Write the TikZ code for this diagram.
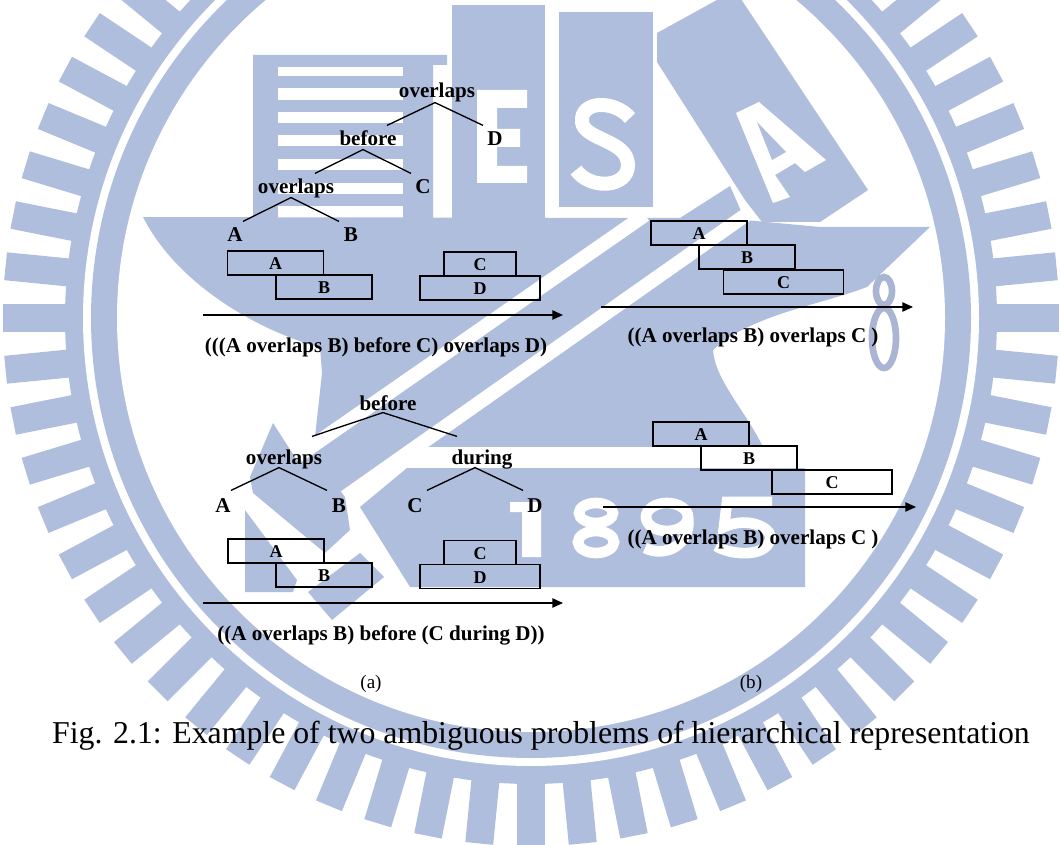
\documentclass[tikz,border=0pt]{standalone}
\usepackage{fontspec}
\setmainfont{Liberation Serif}
\usepackage{xcolor}
\definecolor{wmblue}{HTML}{B0BEDD}
\definecolor{wmgrey}{HTML}{A9B5D2}
\usetikzlibrary{arrows.meta}
\tikzset{
  treelabel/.style={inner sep=0pt,text height=13pt,text depth=2.5pt,font=\fontsize{15.8}{18}\selectfont\bfseries},
  barbox/.style={draw,line width=1.1pt,inner sep=0pt,minimum height=18pt,minimum width=#1,text height=10.4pt,text depth=0pt,font=\fontsize{13.5}{16}\selectfont\bfseries},
  treeleg/.style={line width=1pt},
  timeflow/.style={-{Triangle[length=8pt,width=7pt]},line width=1pt},
  wmstripe/.style={white,line width=10.5pt},
}
\begin{document}
\begin{tikzpicture}[x=0.75pt,y=-0.75pt]
\useasboundingbox (0,0) rectangle (1061,845);
\begin{scope}
\clip (0,0) rectangle (1061,845);
\begin{scope}[shift={(531,318)}]
\foreach \tooth in {0,5.625,...,355}
  \draw[wmblue,line width=21pt] (\tooth:450) -- (\tooth:528);
\fill[wmblue] (0,0) circle (466);
\fill[white] (0,0) circle (448);
\fill[wmblue] (0,0) circle (440);
\fill[white] (0,0) circle (414);
\end{scope}
\fill[wmblue] (253,55) -- (447,55) -- (447,65) -- (433,65) -- (433,218) -- (253,218) -- cycle;
\foreach \ya/\yb in {67/76,88/100,112/123,135/146,159/170,183/194,206/218}
  \fill[white] (278,\ya) rectangle (403,\yb);
\fill[wmblue] (452,5) rectangle (545,218);
\fill[white] (477,90) -- (527,90) -- (527,108) -- (497,108) -- (497,129) -- (520,129) -- (520,147) -- (497,147) -- (497,166) -- (527,166) -- (527,183) -- (477,183) -- cycle;
\fill[wmblue] (559,12) rectangle (653,207);
\draw[white,line width=10.5pt] (630,118) .. controls (615,100) and (580,100) .. (582,122) .. controls (584,140) and (628,140) .. (628,165) .. controls (628,188) and (590,190) .. (576,170);
\fill[wmblue] (657,33) -- (735,-10) -- (868,190) -- (820,222) -- (762,222) -- (745,200) -- (657,62) -- cycle;
\fill[white] (736,113) -- (759,102) -- (826,160) -- (805,172) -- (795,163) -- (775,175) -- (790,197) -- (773,203) -- cycle;
\fill[wmblue] (757,122) -- (772,160) -- (786,152) -- cycle;
\fill[wmblue] (143,217) -- (680,218) -- (730,186) -- (745,220) -- (820,227) -- (930,227) -- (867,287) .. controls (820,305) and (750,315) .. (713,350) .. controls (715,380) and (745,410) .. (763,447) -- (315,447) -- (315,437) -- (322,373) -- (320,347) .. controls (270,335) and (180,290) .. (143,217) -- cycle;
\fill[wmblue] (273,423) -- (298,462) -- (400,400) -- (430,440) -- (345,497) -- (350,530) -- (325,553) -- (253,493) -- (250,477) -- cycle;
\fill[wmblue] (245,510) -- (297,580) -- (293,592) -- (245,592) -- cycle;
\fill[wmblue] (360,553) -- (384,577) -- (332,620) -- (308,592) -- cycle;
\draw[wmstripe] (645,215) -- (298,456);
\draw[wmstripe] (750,212) -- (345,497);
\fill[white] (415,447) rectangle (820,468);
\fill[wmblue] (407,468) -- (805,468) -- (805,587) -- (410,587) -- (360,507) -- cycle;
\fill[white] (510,502) -- (541,502) -- (541,557) -- (522,557) -- (522,512) -- (510,512) -- cycle;
\draw[white,line width=8pt] (596,513) ellipse (17 and 10);
\draw[white,line width=8pt] (596,542) ellipse (18 and 11);
\draw[white,line width=8pt] (667,517) ellipse (21 and 14);
\draw[white,line width=8pt] (688,517) .. controls (692,545) and (665,558) .. (645,548);
\draw[white,line width=8pt] (772,502) -- (727,502) -- (724,527) .. controls (750,515) and (775,530) .. (770,540) .. controls (765,558) and (730,555) .. (716,546);
\draw[wmgrey,line width=5pt] (884,338) ellipse (12 and 30);
\draw[wmgrey,line width=5pt] (884,291) ellipse (8 and 14);
\end{scope}

\node[treelabel](ov1) at (437,91){overlaps};
\node[treelabel](bf1) at (368,139){before};
\node[treelabel](d1) at (495,139){D};
\node[treelabel](ov2) at (296,187){overlaps};
\node[treelabel](c1) at (423,187){C};
\node[treelabel](a1) at (235,235){A};
\node[treelabel](b1) at (351,235){B};
\draw[treeleg]([shift={(19,-3)}]bf1.north)--([shift={(-2,1)}]ov1.south)--([shift={(-12,-3)}]d1.north);
\draw[treeleg]([shift={(19,-3)}]ov2.north)--([shift={(-5,0)}]bf1.south)--([shift={(-12,-3)}]c1.north);
\draw[treeleg]([shift={(8,-3)}]a1.north)--([shift={(-5,0)}]ov2.south)--([shift={(-12,-3)}]b1.north);
\node[barbox=72pt](ra1) at (275.5,263){A};
\node[barbox=72pt](rb1) at (324,287){B};
\node[barbox=54pt](rc1) at (480,264){C};
\node[barbox=90pt](rd1) at (480,288){D};
\coordinate(ts1) at (203,315);
\coordinate(te1) at (563,315);
\draw[timeflow](ts1)--(te1);
\node[treelabel](cap1) at (376,345){(((A overlaps B) before C) overlaps D)};

\node[treelabel](bf2) at (388,403){before};
\node[treelabel](ov3) at (284,457){overlaps};
\node[treelabel](du1) at (482,457){during};
\node[treelabel](a2) at (223,505){A};
\node[treelabel](b2) at (339,505){B};
\node[treelabel](c2) at (415,505){C};
\node[treelabel](d2) at (535,505){D};
\draw[treeleg]([shift={(28,-10)}]ov3.north)--([shift={(-5,-1)}]bf2.south)--([shift={(-25,-10)}]du1.north);
\draw[treeleg]([shift={(8,-4)}]a2.north)--([shift={(-5,0)}]ov3.south)--([shift={(-12,-4)}]b2.north);
\draw[treeleg]([shift={(12,-4)}]c2.north)--([shift={(-7,0)}]du1.south)--([shift={(-12,-4)}]d2.north);
\node[barbox=72pt](ra2) at (276,551){A};
\node[barbox=72pt](rb2) at (324,575){B};
\node[barbox=54pt](rc2) at (480,552.5){C};
\node[barbox=90pt](rd2) at (480,576.5){D};
\coordinate(ts2) at (203,603);
\coordinate(te2) at (563,603);
\draw[timeflow](ts2)--(te2);
\node[treelabel](cap2) at (381,633){((A overlaps B) before (C during D))};

\node[barbox=72pt](ra3) at (699,233){A};
\node[barbox=72pt](rb3) at (747,257){B};
\node[barbox=90pt](rc3) at (783.5,282){C};
\coordinate(ts3) at (601,307);
\coordinate(te3) at (913,307);
\draw[timeflow](ts3)--(te3);
\node[treelabel](cap3) at (753,335.5){((A overlaps B) overlaps C )};

\node[barbox=72pt](ra4) at (701,434){A};
\node[barbox=72pt](rb4) at (749,458){B};
\node[barbox=90pt](rc4) at (832,482){C};
\coordinate(ts4) at (603,507);
\coordinate(te4) at (916,507);
\draw[timeflow](ts4)--(te4);
\node[treelabel](cap4) at (753,537){((A overlaps B) overlaps C )};

\node[inner sep=0pt,font=\fontsize{14.3}{17}\selectfont](suba) at (371,684){(a)};
\node[inner sep=0pt,font=\fontsize{14.3}{17}\selectfont](subb) at (751,684){(b)};
\node[inner sep=0pt,font=\fontsize{23.85}{28}\selectfont](figcap) at (541,736){Fig. 2.1: Example of two ambiguous problems of hierarchical representation};
\end{tikzpicture}
\end{document}
